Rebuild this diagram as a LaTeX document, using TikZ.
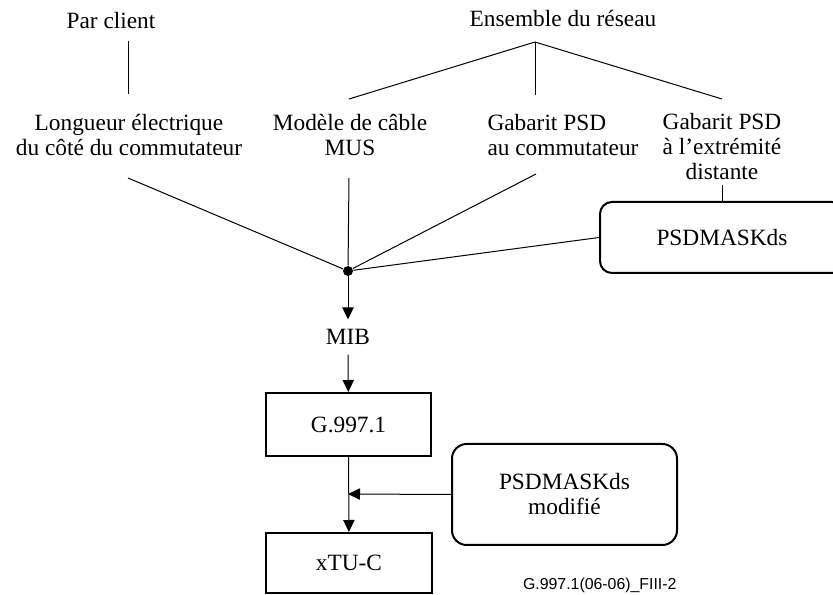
\documentclass[tikz,border=0pt]{standalone}
\usepackage{fontspec}
\setmainfont{Liberation Serif}
\newfontfamily\creditfont{Liberation Sans}
\usetikzlibrary{arrows.meta}

\tikzset{every picture/.style={line width=0.75pt}}
\tikzset{
  lbl/.style={inner sep=0pt, align=center, font=\fontsize{17.5}{18.75}\selectfont},
  blk/.style={draw, line width=1.5pt, inner sep=0pt, font=\fontsize{17.5}{18.75}\selectfont},
  rblk/.style={blk, align=center},
  arr/.style={-{Triangle[length=9pt,width=8.5pt]}},
}

\begin{document}
\begin{tikzpicture}[x=0.75pt,y=0.75pt,yscale=-1,xscale=1]
    \useasboundingbox (0,0) rectangle (833,595);

    % Text Node
    \node [lbl] (parclient) at (111,21) {Par client};
    % Text Node
    \node [lbl] (ensemble) at (563,19) {Ensemble du réseau};
    % Text Node
    \node [lbl] (longueur) at (129,135) {Longueur électrique\\du côté du commutateur};
    % Text Node
    \node [lbl] (modele) at (350,135) {Modèle de câble\\MUS};
    % Text Node
    \node [lbl, anchor=west, align=left] (gabcom) at (487,135) {Gabarit PSD\\au commutateur};
    % Text Node
    \node [lbl] (gabdist) at (722,147) {Gabarit PSD\\à l’extrémité\\distante};

    % end points of the plain lines
    \coordinate (pc-top) at (128,41);
    \coordinate (pc-bot) at (128,94);
    \coordinate (apex) at (535,42);
    \coordinate (mod-top) at (349,99);
    \coordinate (gc-top) at (535,95);
    \coordinate (gd-top) at (722,99);
    \coordinate (lg-bot) at (128,178);
    \coordinate (mod-bot) at (349,178);
    \coordinate (gc-bot) at (536,174);
    \coordinate (gd-bot) at (722,185);
    \coordinate (join) at (348,494);

    %Shape: Circle
    \node [circle, fill, inner sep=0pt, minimum size=7.5pt] (hub) at (348,271) {};
    %Shape: Rounded Rect
    \node [rblk, rounded corners=9pt, minimum width=183pt, minimum height=53.25pt] (psdmask) at (722,237.5) {PSDMASKds};
    % Text Node
    \node [lbl, inner sep=7pt] (mib) at (348,337) {MIB};
    %Shape: Rectangle
    \node [blk, minimum width=123.75pt, minimum height=47.25pt] (g9971) at (348.5,424.5) {G.997.1};
    %Shape: Rectangle
    \node [blk, minimum width=124.5pt, minimum height=45pt] (xtuc) at (349,563) {xTU-C};
    %Shape: Rounded Rect
    \node [rblk, rounded corners=11pt, minimum width=168.75pt, minimum height=75.75pt] (psdmod) at (564.5,494.5) {PSDMASKds\\modifié};
    % Text Node
    \node [anchor=east, inner sep=0pt, font=\creditfont\fontsize{11.9}{13}\selectfont] (credit) at (677,585) {G.997.1(06-06)\_FIII-2};

    % upper tree
    \draw (pc-top) -- (pc-bot);
    \draw (apex) -- (mod-top);
    \draw (apex) -- (gc-top);
    \draw (apex) -- (gd-top);
    \draw (gd-bot) -- (psdmask.north);

    % lines into the hub
    \draw (lg-bot) -- (hub);
    \draw (mod-bot) -- (hub);
    \draw (gc-bot) -- (hub);
    \draw (psdmask.west) -- (hub);

    % arrows
    \draw [arr] (hub) -- (mib);
    \draw [arr] (mib) -- (g9971);
    \draw [arr] (g9971) -- (xtuc);
    \draw [arr] (psdmod.west) -- (join);
\end{tikzpicture}
\end{document}
